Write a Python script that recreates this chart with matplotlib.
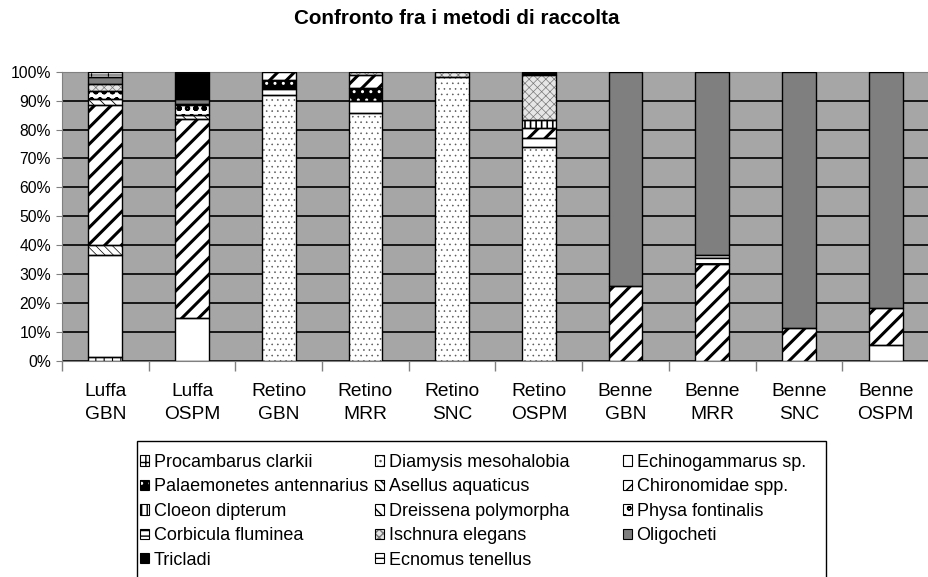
import numpy as np
import matplotlib
matplotlib.use('Agg')
import matplotlib.pyplot as plt
from matplotlib.patches import Patch, Rectangle

plt.rcParams['font.family'] = ['Liberation Sans', 'DejaVu Sans']
plt.rcParams['hatch.linewidth'] = 1.0

# categorie (metodo / stazione)
categorie = ['Luffa\nGBN', 'Luffa\nOSPM', 'Retino\nGBN', 'Retino\nMRR', 'Retino\nSNC',
             'Retino\nOSPM', 'Benne\nGBN', 'Benne\nMRR', 'Benne\nSNC', 'Benne\nOSPM']

# percentuali, una lista per taxon
procambarus = [1.5, 0, 0, 0, 0, 0, 0, 0, 0, 0]
diamysis = [0, 0, 92.0, 85.7, 98.2, 73.9, 0, 0, 0, 0]
echinogammarus = [35.0, 15.0, 2.0, 4.0, 0, 3.1, 0, 0, 0, 5.5]
palaemonetes = [0, 0, 3.3, 4.6, 0, 0, 0, 0, 0, 0]
asellus = [3.5, 0, 0, 0, 0, 0, 0, 0, 0, 0]
chironomidae = [48.5, 68.5, 2.7, 4.6, 0, 3.5, 25.9, 33.6, 11.5, 12.7]
cloeon = [0, 0, 0, 0, 0, 2.9, 0, 0, 0, 0]
dreissena = [2.0, 1.5, 0, 0, 0, 0, 0, 0, 0, 0]
physa = [2.7, 3.5, 0, 0, 0, 0, 0, 0, 0, 0]
corbicula = [0, 0.5, 0, 0, 0, 0, 0, 3.1, 0, 0]
ischnura = [2.5, 0, 0, 1.1, 1.8, 15.6, 0, 0, 0, 0]
oligocheti = [2.3, 1.5, 0, 0, 0, 0, 74.1, 63.3, 88.5, 81.8]
tricladi = [0, 9.5, 0, 0, 0, 1.0, 0, 0, 0, 0]
ecnomus = [2.0, 0, 0, 0, 0, 0, 0, 0, 0, 0]

nomi = ['Procambarus clarkii', 'Diamysis mesohalobia', 'Echinogammarus sp.',
        'Palaemonetes antennarius', 'Asellus aquaticus', 'Chironomidae spp.',
        'Cloeon dipterum', 'Dreissena polymorpha', 'Physa fontinalis',
        'Corbicula fluminea', 'Ischnura elegans', 'Oligocheti',
        'Tricladi', 'Ecnomus tenellus']
serie = [procambarus, diamysis, echinogammarus, palaemonetes, asellus, chironomidae,
         cloeon, dreissena, physa, corbicula, ischnura, oligocheti, tricladi, ecnomus]

# stile: (colore riempimento, tratteggio, colore tratteggio, spessore tratteggio)
stili = [('white', '++', 'black', 0.8),
         ('white', '...', '#555555', 0.4),
         ('white', '', 'black', 0.8),
         ('black', '..', 'white', 1.0),
         ('white', '\\\\\\\\', 'black', 0.5),
         ('white', '//', 'black', 2.2),
         ('white', '|||', 'black', 1.2),
         ('white', '\\\\\\', 'black', 0.6),
         ('white', 'oo', 'black', 1.5),
         ('white', '---', 'black', 1.2),
         ('#e6e6e6', 'xxxx', '#777777', 0.5),
         ('#7f7f7f', '', 'black', 0.8),
         ('black', '', 'black', 0.8),
         ('white', '+.', 'black', 0.6)]

fig = plt.figure(figsize=(9.29, 5.77), dpi=100)
ax = fig.add_axes([62 / 929, 1 - 361 / 577, 1 - 62 / 929, (361 - 71.7) / 577])
ax.set_facecolor('#a6a6a6')

x = np.arange(len(categorie))
larghezza = 0.39
base = np.zeros(len(categorie))
handles = []
for vals, (fc, h, hc, hlw) in zip(serie, stili):
    vals = np.array(vals, dtype=float)
    m = vals > 0
    bars = ax.bar(x[m], vals[m], larghezza, bottom=base[m], facecolor=fc,
                  edgecolor=hc, hatch=h, linewidth=0, zorder=2)
    for b in bars:
        if hasattr(b, 'set_hatch_linewidth'):
            b.set_hatch_linewidth(hlw)
    ax.bar(x[m], vals[m], larghezza, bottom=base[m], fill=False,
           edgecolor='black', linewidth=1.0, zorder=3)
    base += vals
    p1 = Patch(facecolor=fc, edgecolor=hc, hatch=h, linewidth=0)
    if hasattr(p1, 'set_hatch_linewidth'):
        p1.set_hatch_linewidth(min(hlw, 1.0))
    p2 = Patch(fill=False, edgecolor='black', linewidth=0.8)
    handles.append((p1, p2))

ax.set_xlim(-0.5, len(categorie) - 0.5)
ax.set_ylim(0, 100)
ax.set_yticks(np.arange(0, 101, 10))
ax.set_yticklabels([f'{v}%' for v in range(0, 101, 10)], fontsize=11.3)
ax.yaxis.grid(True, color='black', linewidth=1.2)
ax.set_axisbelow(True)

ax.set_xticks(x)
ax.set_xticklabels(categorie, fontsize=13.8, linespacing=1.45)
ax.set_xticks(np.arange(-0.5, len(categorie)), minor=True)
ax.tick_params(axis='x', which='major', length=0, pad=16)
ax.tick_params(axis='x', which='minor', length=7, width=1, color='#808080')
ax.tick_params(axis='y', length=4, color='#808080', pad=4)
for s in ax.spines.values():
    s.set_color('#808080')
ax.spines['right'].set_visible(False)

fig.text(457 / 929, 1 - 19 / 577, 'Confronto fra i metodi di raccolta',
         ha='center', va='center', fontsize=14.9, fontweight='bold')

# legenda su 3 colonne di larghezza fissa, come in Excel
colonne = [[0, 3, 6, 9, 12], [1, 4, 7, 10, 13], [2, 5, 8, 11]]
x_col = [140, 375, 623]
for idx, xc in zip(colonne, x_col):
    fig.legend([handles[i] for i in idx], [nomi[i] for i in idx],
               loc='upper left', bbox_to_anchor=(xc / 929, 1 - 454 / 577),
               fontsize=13.0, frameon=False, handlelength=0.5, handleheight=0.5,
               handletextpad=0.25, labelspacing=0.41, borderpad=0, borderaxespad=0)
fig.add_artist(Rectangle((137 / 929, -0.05), (826 - 137) / 929, 0.05 + (577 - 441) / 577,
                         transform=fig.transFigure, fill=False, edgecolor='black',
                         linewidth=1.0))

fig.savefig('out.png', dpi=100)
